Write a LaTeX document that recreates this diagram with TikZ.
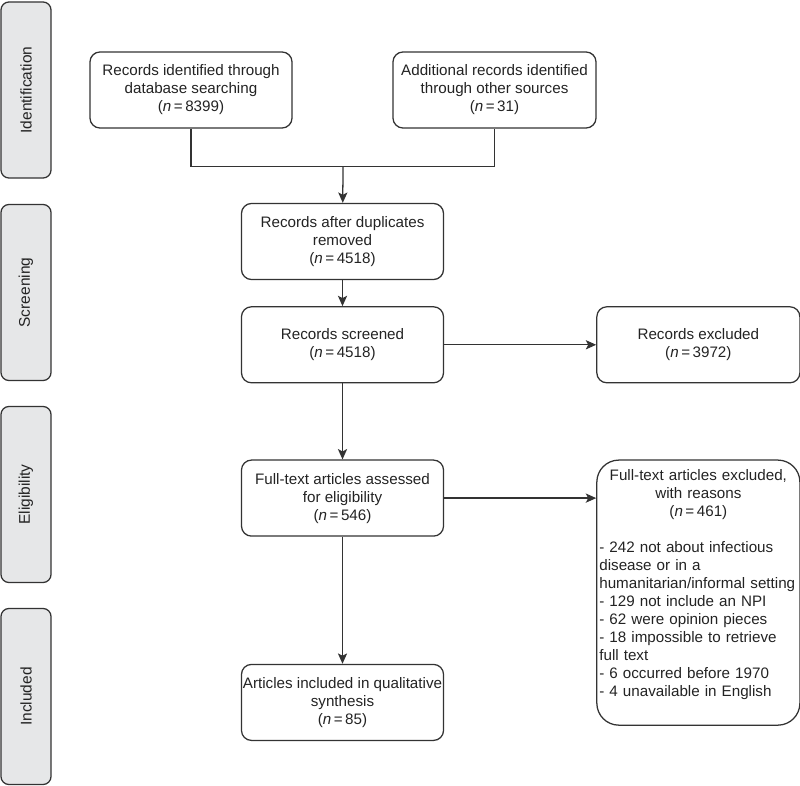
\documentclass[tikz,border=0pt]{standalone}
\usepackage{fontspec}
\setmainfont{Liberation Sans}
\usetikzlibrary{arrows.meta, positioning}
\definecolor{linegray}{RGB}{51,51,51}
\definecolor{stagegray}{RGB}{230,231,232}
\definecolor{textgray}{RGB}{35,35,35}

\begin{document}
\begin{tikzpicture}[
    x=0.025cm, y=-0.025cm,
    node distance=0.65cm and 3.8cm,
    box/.style={rectangle, draw=linegray, line width=0.9pt, rounded corners=0.25cm, minimum width=5.05cm, minimum height=1.9cm, inner sep=1pt, align=center, text=textgray, font=\fontsize{10.8}{12.8}\selectfont},
    stage/.style={rectangle, draw=linegray, line width=0.9pt, fill=stagegray, rounded corners=0.2cm, minimum width=4.4cm, minimum height=1.25cm, rotate=90, text=textgray, font=\fontsize{11}{13}\selectfont},
    arrow/.style={-{Stealth[length=2.6mm, width=2.3mm, inset=0.6mm]}, line width=0.9pt, draw=linegray},
    line/.style={line width=0.9pt, draw=linegray}
]

% Frame
\useasboundingbox (0,0) rectangle (800,786);

% Stages
\node[stage] (ident) at (26,90) {Identification};
\node[stage] (screen) at (26,292.5) {Screening};
\node[stage] (elig) at (26,494.5) {Eligibility};
\node[stage] (incl) at (26,696.5) {Included};

% Sources
\node[box] (dbsearch) at (191,90) {Records identified through\\database searching\\(\textit{n}\,=\,8399)};
\node[box, minimum width=5.075cm] (othersrc) at (494.5,90) {Additional records identified\\through other sources\\(\textit{n}\,=\,31)};
\coordinate (merge) at (343,166.5);

% Main column
\node[box] (dedup) at (342.5,241.5) {Records after duplicates\\removed\\(\textit{n}\,=\,4518)};
\node[box, below=of dedup] (screened) {Records screened\\(\textit{n}\,=\,4518)};
\node[box, below=1.9cm of screened] (fulltext) {Full-text articles assessed\\for eligibility\\(\textit{n}\,=\,546)};
\node[box, below=3.175cm of fulltext] (included) {Articles included in qualitative\\synthesis\\(\textit{n}\,=\,85)};

% Exclusions
\node[box, minimum width=5.075cm, right=of screened] (recexcl) {Records excluded\\(\textit{n}\,=\,3972)};
\node[box, minimum width=5.075cm, minimum height=6.625cm, rounded corners=0.55cm, text width=4.95cm, inner xsep=0.06cm, align=left, anchor=north west] (ftexcl) at (fulltext.north -| recexcl.west) {%
    {\centering Full-text articles excluded,\\with reasons\\(\textit{n}\,=\,461)\par}
    \vspace{12.8pt}
    - 242 not about infectious\\
    disease or in a\\
    humanitarian/informal setting\\
    - 129 not include an NPI\\
    - 62 were opinion pieces\\
    - 18 impossible to retrieve\\
    full text\\
    - 6 occurred before 1970\\
    - 4 unavailable in English\rule[-14pt]{0pt}{0pt}};

% Connectors
\draw[line] (dbsearch.south) |- (merge) -| (othersrc.south);
\draw[arrow] (merge) -- (dedup);
\draw[arrow] (dedup) -- (screened);
\draw[arrow] (screened) -- (fulltext);
\draw[arrow] (fulltext) -- (included);
\draw[arrow] (screened) -- (recexcl);
\draw[arrow] (fulltext.east) -- (fulltext.east -| ftexcl.west);

\end{tikzpicture}
\end{document}
